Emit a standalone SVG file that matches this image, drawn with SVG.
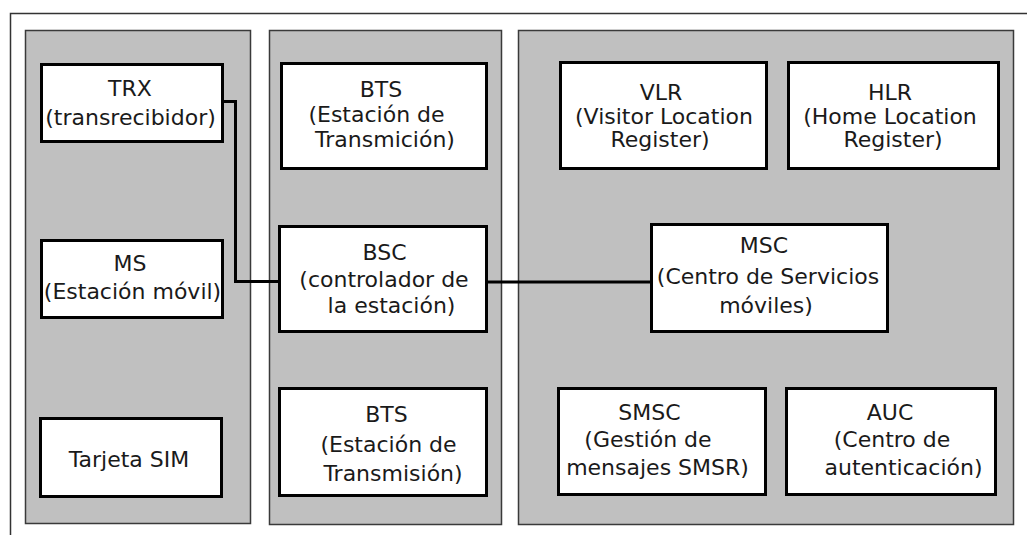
<svg xmlns="http://www.w3.org/2000/svg" width="1027" height="535" viewBox="0 0 1027 535">
  <style>
    .frame { fill: none; stroke: #333333; stroke-width: 1.5; }
    .panel { fill: #c0c0c0; stroke: #3a3a3a; stroke-width: 1.5; }
    .box { fill: #ffffff; stroke: #000000; stroke-width: 3; }
    .wire { fill: none; stroke: #000000; stroke-width: 3; stroke-linejoin: miter; }
    text { font-family: "DejaVu Sans", Verdana, sans-serif; font-size: 22px; fill: #1a1a1a; text-anchor: middle; }
  </style>
  <rect width="1027" height="535" fill="#ffffff"/>

  <!-- outer frame (open to the right and bottom) -->
  <path class="frame" d="M10.5 535 V13.5 H1027"/>

  <!-- panels -->
  <g id="panel-mobile"><rect class="panel" x="25.5" y="30.5" width="225" height="493"/></g>
  <g id="panel-bss"><rect class="panel" x="269.5" y="30.5" width="232" height="494"/></g>
  <g id="panel-nss"><rect class="panel" x="518.5" y="30.5" width="495" height="494"/></g>

  <!-- connectors -->
  <g id="connectors">
    <path class="wire" d="M223 101.5 H235.5 V281.5 H280"/>
    <path class="wire" d="M487 282 H651"/>
  </g>

  <!-- mobile station side -->
  <g id="trx">
    <rect class="box" x="41.5" y="64.5" width="181" height="77"/>
    <text x="130" y="95.5">TRX</text>
    <text x="130.5" y="125">(transrecibidor)</text>
  </g>
  <g id="ms">
    <rect class="box" x="41.5" y="240.5" width="181" height="77"/>
    <text x="130" y="271">MS</text>
    <text x="132.5" y="299">(Estación móvil)</text>
  </g>
  <g id="sim">
    <rect class="box" x="40.5" y="418.5" width="181" height="78"/>
    <text x="129" y="467">Tarjeta SIM</text>
  </g>

  <!-- base station subsystem -->
  <g id="bts-top">
    <rect class="box" x="281.5" y="63.5" width="205" height="105"/>
    <text x="381" y="97">BTS</text>
    <text x="376.5" y="122">(Estación de</text>
    <text x="385" y="147">Transmición)</text>
  </g>
  <g id="bsc">
    <rect class="box" x="279.5" y="226.5" width="207" height="105"/>
    <text x="384.5" y="260">BSC</text>
    <text x="384" y="287">(controlador de</text>
    <text x="391.5" y="313">la estación)</text>
  </g>
  <g id="bts-bottom">
    <rect class="box" x="279.5" y="388.5" width="207" height="107"/>
    <text x="386.5" y="422">BTS</text>
    <text x="388.5" y="452">(Estación de</text>
    <text x="393" y="481">Transmisión)</text>
  </g>

  <!-- network switching subsystem -->
  <g id="vlr">
    <rect class="box" x="560.5" y="62.5" width="206" height="106"/>
    <text x="661" y="100">VLR</text>
    <text x="664" y="124">(Visitor Location</text>
    <text x="660" y="147">Register)</text>
  </g>
  <g id="hlr">
    <rect class="box" x="788.5" y="62.5" width="210" height="106"/>
    <text x="890" y="100">HLR</text>
    <text x="890" y="124">(Home Location</text>
    <text x="893" y="147">Register)</text>
  </g>
  <g id="msc">
    <rect class="box" x="651.5" y="224.5" width="236" height="107"/>
    <text x="764" y="253">MSC</text>
    <text x="768" y="284">(Centro de Servicios</text>
    <text x="766" y="313">móviles)</text>
  </g>
  <g id="smsc">
    <rect class="box" x="558.5" y="388.5" width="207" height="106"/>
    <text x="649.5" y="420">SMSC</text>
    <text x="648" y="447">(Gestión de</text>
    <text x="657.5" y="475">mensajes SMSR)</text>
  </g>
  <g id="auc">
    <rect class="box" x="786.5" y="388.5" width="209" height="106"/>
    <text x="890" y="420">AUC</text>
    <text x="892" y="447">(Centro de</text>
    <text x="903.5" y="475">autenticación)</text>
  </g>
</svg>
